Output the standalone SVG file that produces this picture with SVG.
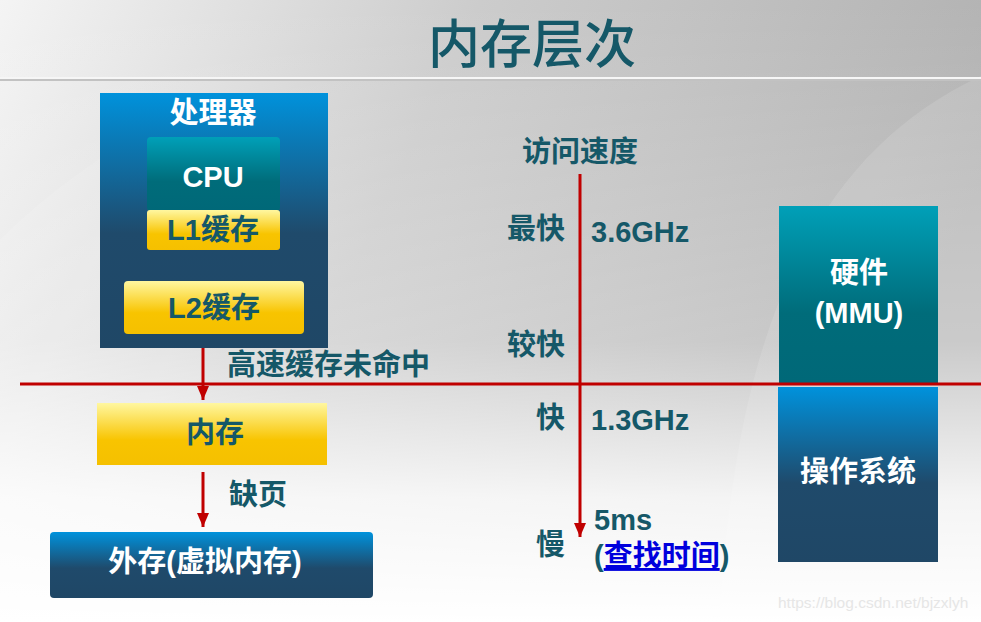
<svg xmlns="http://www.w3.org/2000/svg" width="981" height="622" viewBox="0 0 981 622">
<defs>
<linearGradient id="bgH" x1="0" y1="0" x2="1" y2="0.3">
<stop offset="0" stop-color="#f4f4f4"/>
<stop offset="0.45" stop-color="#cccccc"/>
<stop offset="1" stop-color="#b0b0b0"/>
</linearGradient>
<linearGradient id="bgV" x1="0" y1="0" x2="0" y2="1">
<stop offset="0" stop-color="#ffffff" stop-opacity="0"/>
<stop offset="0.55" stop-color="#ffffff" stop-opacity="0.25"/>
<stop offset="0.8" stop-color="#ffffff" stop-opacity="0.85"/>
<stop offset="1" stop-color="#ffffff" stop-opacity="1"/>
</linearGradient>
<linearGradient id="blue" x1="0" y1="0" x2="0" y2="1">
<stop offset="0" stop-color="#0092dc"/>
<stop offset="0.55" stop-color="#1f4a6b"/>
<stop offset="1" stop-color="#1f4766"/>
</linearGradient>
<linearGradient id="teal" x1="0" y1="0" x2="0" y2="1">
<stop offset="0" stop-color="#00a0b8"/>
<stop offset="0.6" stop-color="#006c7a"/>
<stop offset="1" stop-color="#006878"/>
</linearGradient>
<linearGradient id="yellow" x1="0" y1="0" x2="0" y2="1">
<stop offset="0" stop-color="#fff7a0"/>
<stop offset="0.6" stop-color="#f8c400"/>
<stop offset="1" stop-color="#f5c000"/>
</linearGradient>
<marker id="ah" viewBox="0 0 14 12" refX="14" refY="6" markerWidth="14" markerHeight="12" markerUnits="userSpaceOnUse" orient="auto">
<path d="M0,0 L14,6 L0,12 Z" fill="#c00000"/>
</marker>
</defs>
<style>
text{font-family:"Liberation Sans","Noto Sans CJK SC",sans-serif;font-weight:bold;}
.w{fill:#ffffff;font-size:29px;text-anchor:middle;}
.d{fill:#155868;font-size:29px;}
.c{text-anchor:middle;}
.r{text-anchor:end;}
.red{stroke:#c00000;stroke-width:3;fill:none;}
</style>
<rect x="0" y="0" width="981" height="622" fill="url(#bgH)"/>
<path d="M720,622 C740,200 900,40 1200,30 L1200,622 Z" fill="#ffffff" opacity="0.12"/>
<path d="M0,240 C60,180 150,120 200,110 L200,622 L0,622 Z" fill="#ffffff" opacity="0.1"/>
<rect x="0" y="0" width="981" height="622" fill="url(#bgV)"/>
<rect x="0" y="77" width="981" height="2" fill="#f6f6f6"/>
<rect x="0" y="79" width="981" height="2" fill="#c2c2c2"/>
<text x="532" y="63" fill="#155868" font-size="52" text-anchor="middle" style="font-weight:500">内存层次</text>

<g id="processor">
<rect x="100" y="93" width="228" height="255" fill="url(#blue)"/>
<text class="w" x="213" y="123">处理器</text>
</g>
<g id="cpu">
<rect x="147" y="137" width="133" height="74" rx="4" fill="url(#teal)"/>
<text class="w" x="213" y="187">CPU</text>
</g>
<g id="l1">
<rect x="147" y="210" width="133" height="40" rx="3" fill="url(#yellow)"/>
<text class="d c" x="213" y="240">L1缓存</text>
</g>
<g id="l2">
<rect x="124" y="281" width="180" height="53" rx="4" fill="url(#yellow)"/>
<text class="d c" x="214" y="318">L2缓存</text>
</g>
<g id="memory">
<rect x="97" y="403" width="230" height="62" fill="url(#yellow)"/>
<text class="d c" x="215" y="443">内存</text>
</g>
<g id="disk">
<rect x="50" y="532" width="323" height="66" rx="4" fill="url(#blue)"/>
<text class="w" x="205" y="572">外存(虚拟内存)</text>
</g>
<g id="hardware">
<rect x="779" y="206" width="159" height="178" fill="url(#teal)"/>
<text class="w" x="859" y="283">硬件</text>
<text class="w" x="859" y="323">(MMU)</text>
</g>
<g id="os">
<rect x="778" y="387" width="160" height="175" fill="url(#blue)"/>
<text class="w" x="858" y="482">操作系统</text>
</g>

<g id="connectors">
<line class="red" x1="20" y1="384" x2="981" y2="384"/>
<line class="red" x1="203" y1="348" x2="203" y2="400" marker-end="url(#ah)"/>
<line class="red" x1="203" y1="472" x2="203" y2="527" marker-end="url(#ah)"/>
<line class="red" x1="580" y1="174" x2="580" y2="537" marker-end="url(#ah)"/>
</g>

<g id="labels">
<text class="d" x="227" y="375">高速缓存未命中</text>
<text class="d" x="229" y="505">缺页</text>
<text class="d c" x="580" y="162">访问速度</text>
<text class="d r" x="565" y="239">最快</text>
<text class="d" x="591" y="242">3.6GHz</text>
<text class="d r" x="565" y="355">较快</text>
<text class="d r" x="565" y="428">快</text>
<text class="d" x="591" y="430">1.3GHz</text>
<text class="d" x="594" y="530">5ms</text>
<text class="d r" x="565" y="555">慢</text>
<text class="d" x="594" y="566">(<tspan fill="#0000dd" text-decoration="underline">查找时间</tspan>)</text>
</g>
<text x="778" y="608" fill="#e6e6e6" font-size="15.5" style="font-weight:normal">https://blog.csdn.net/bjzxlyh</text>
</svg>
